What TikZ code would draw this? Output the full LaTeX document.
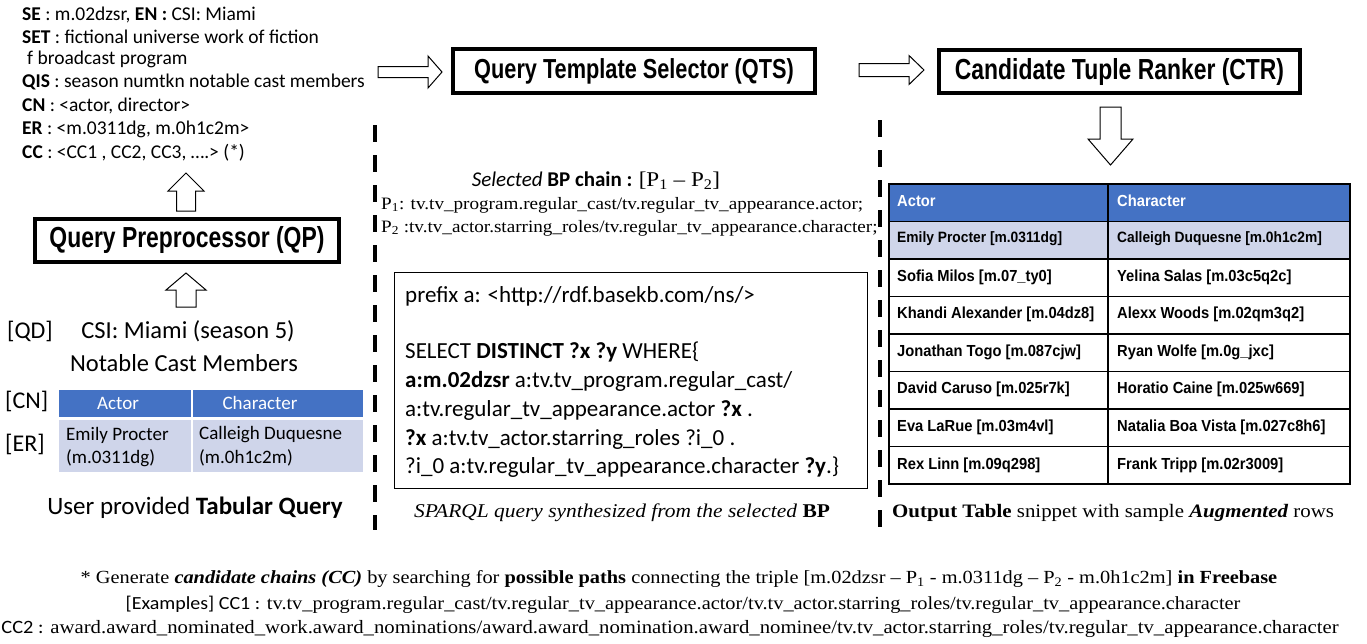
\documentclass[tikz,border=0pt]{standalone}
\usepackage{fontspec}
\setmainfont{Carlito}
\newfontfamily\arialn[FakeStretch=0.79]{Liberation Sans}
\newfontfamily\arialt[FakeStretch=0.92]{Liberation Sans}
\newfontfamily\tnr[FakeStretch=1.1]{Liberation Serif}
\newfontfamily\calw[FakeStretch=1.08]{Carlito}
\definecolor{hdrblue}{HTML}{4472C4}
\definecolor{rowlav}{HTML}{CFD5EA}
\begin{document}
\begin{tikzpicture}[x=1pt,y=-1pt,
  lbl/.style={inner sep=0, anchor=west, font=\fontsize{19.5}{22}\selectfont},
  procbox/.style={draw, line width=4pt, inner sep=0, font=\arialn\bfseries\fontsize{29}{32}\selectfont},
  blockarrow/.style={draw, line width=1pt, fill=white},
  dashline/.style={line width=4.5pt, dash pattern=on 17pt off 13pt},
  sq/.style={inner sep=0, anchor=west, font=\fontsize{23}{26}\selectfont},
  big/.style={inner sep=0, font=\fontsize{24.5}{28}\selectfont},
  tq/.style={inner sep=0, font=\fontsize{19}{22}\selectfont},
  tcell/.style={inner sep=0, anchor=west, font=\arialt\bfseries\fontsize{16}{19}\selectfont},
  tms/.style={inner sep=0, font=\tnr\fontsize{18.5}{21}\selectfont},
]
\useasboundingbox (0,0) rectangle (1367,643);

% top-left text block
\node[lbl] (se) at (22,15) {\textbf{SE} : m.02dzsr, \textbf{EN :} CSI: Miami};
\node[lbl] (set) at (22,37) {\textbf{SET} : fictional universe work of fiction};
\node[lbl] (set2) at (27,59) {f broadcast program};
\node[lbl] (qis) at (22,82) {\textbf{QIS} : season numtkn notable cast members};
\node[lbl] (cn) at (22,106) {\textbf{CN} : <actor, director>};
\node[lbl] (er) at (22,129) {\textbf{ER} : <m.0311dg, m.0h1c2m>};
\node[lbl] (cc) at (22,153) {\textbf{CC} : <CC1 , CC2, CC3, ….> (*)};

% process boxes
\node[procbox, minimum width=304pt, minimum height=43pt] (qp) at (187,240) {Query Preprocessor (QP)};
\node[procbox, minimum width=362pt, minimum height=44pt, font=\arialn\bfseries\fontsize{27.5}{31}\selectfont] (qts) at (634,71) {Query Template Selector (QTS)};
\node[procbox, minimum width=361pt, minimum height=43pt] (ctr) at (1119.5,71.5) {Candidate Tuple Ranker (CTR)};

% block arrows
\draw[blockarrow] (378,66.5) -- (428,66.5) -- (428,56) -- (442,72) -- (428,88) -- (428,77.5) -- (378,77.5) -- cycle;
\draw[blockarrow] (859,63.5) -- (909,63.5) -- (909,55.5) -- (924,70) -- (909,84.5) -- (909,76.5) -- (859,76.5) -- cycle;
\draw[blockarrow] (1100,107) -- (1100,139) -- (1088,139) -- (1110.5,165) -- (1133,139) -- (1121,139) -- (1121,107) -- cycle;
\draw[blockarrow] (176.5,211) -- (176.5,191) -- (168,191) -- (186,173) -- (204,191) -- (195.5,191) -- (195.5,211) -- cycle;
\draw[blockarrow] (176,307) -- (176,290) -- (166,290) -- (186,273) -- (206,290) -- (196,290) -- (196,307) -- cycle;

% dashed separators
\draw[dashline] (375,125) -- (375,530);
\draw[dashline] (880,120) -- (880,530);

% left: tabular query
\node[inner sep=0, anchor=west, font=\fontsize{24}{28}\selectfont] (qd) at (7,331) {[QD]};
\node[big] (title1) at (188,331) {CSI: Miami (season 5)};
\node[big] (title2) at (184,363) {Notable Cast Members};
\node[inner sep=0, anchor=west, font=\fontsize{24}{28}\selectfont] (cnl) at (5,401) {[CN]};
\node[inner sep=0, anchor=west, font=\fontsize{24}{28}\selectfont] (erl) at (5,444) {[ER]};
\fill[hdrblue] (59,390) rectangle (190.5,416.5);
\fill[hdrblue] (193,390) rectangle (363,416.5);
\fill[rowlav] (59,420) rectangle (190.5,472);
\fill[rowlav] (193,420) rectangle (363,472);
\node[tq, text=white] (ha) at (118,403) {Actor};
\node[tq, text=white] (hc) at (260,403) {Character};
\node[tq, anchor=west] (b1) at (66,435) {Emily Procter};
\node[tq, anchor=west] (b2) at (66,458) {(m.0311dg)};
\node[tq, anchor=west] (b3) at (199,435) {Calleigh Duquesne};
\node[tq, anchor=west] (b4) at (199,458) {(m.0h1c2m)};
\node[big, font=\fontsize{25}{28}\selectfont] (cap1) at (195,508) {User provided \textbf{Tabular Query}};

% middle: BP chain
\node[inner sep=0, font=\fontsize{21}{25}\selectfont] (bp) at (596,181) {\textit{Selected} \textbf{BP chain :} {\tnr [P\textsubscript{1} – P\textsubscript{2}]}};
\node[inner sep=0, anchor=west, font=\tnr\fontsize{17.4}{21}\selectfont] (p1) at (381,205) {P\textsubscript{1}: tv.tv\_program.regular\_cast/tv.regular\_tv\_appearance.actor;};
\node[inner sep=0, anchor=west, font=\tnr\fontsize{17.4}{21}\selectfont] (p2) at (381,228) {P\textsubscript{2} :tv.tv\_actor.starring\_roles/tv.regular\_tv\_appearance.character;};

% SPARQL box
\draw[line width=1pt] (394,272) rectangle (867,488);
\node[sq] (s1) at (405,296) {prefix a: <http://rdf.basekb.com/ns/>};
\node[sq] (s2) at (405,352) {SELECT \textbf{DISTINCT ?x ?y} WHERE\{};
\node[sq] (s3) at (405,381) {\textbf{a:m.02dzsr} a:tv.tv\_program.regular\_cast/};
\node[sq] (s4) at (405,410) {a:tv.regular\_tv\_appearance.actor \textbf{?x} .};
\node[sq] (s5) at (405,439) {\textbf{?x} a:tv.tv\_actor.starring\_roles ?i\_0 .};
\node[sq] (s6) at (405,467) {?i\_0 a:tv.regular\_tv\_appearance.character \textbf{?y}.\}};
\node[inner sep=0, font=\tnr\itshape\fontsize{19.5}{23}\selectfont] (cap2) at (622,513) {SPARQL query synthesized from the selected \textbf{\upshape BP}};

% output table
\fill[hdrblue] (889,184) rectangle (1350,221.5);
\fill[rowlav] (889,221.5) rectangle (1350,259);
\foreach \yy in {221.5,259,296.5,334,371.5,409,446.5} {
  \draw[line width=1.5pt] (889,\yy) -- (1350,\yy);
}
\draw[line width=1.5pt] (889,184) rectangle (1350,484);
\draw[line width=1.5pt] (1108,184) -- (1108,484);
\node[tcell, text=white] (oh1) at (897,201) {Actor};
\node[tcell, text=white] (oh2) at (1117,201) {Character};
\node[tcell, font=\arialt\bfseries\fontsize{15}{17}\selectfont] (r1a) at (897,239) {Emily Procter [m.0311dg]};
\node[tcell, font=\arialt\bfseries\fontsize{15}{17}\selectfont] (r1b) at (1117,239) {Calleigh Duquesne [m.0h1c2m]};
\node[tcell] (r2a) at (897,277) {Sofia Milos [m.07\_ty0]};
\node[tcell] (r2b) at (1117,277) {Yelina Salas [m.03c5q2c]};
\node[tcell] (r3a) at (897,314) {Khandi Alexander [m.04dz8]};
\node[tcell] (r3b) at (1117,314) {Alexx Woods [m.02qm3q2]};
\node[tcell] (r4a) at (897,352) {Jonathan Togo [m.087cjw]};
\node[tcell] (r4b) at (1117,352) {Ryan Wolfe [m.0g\_jxc]};
\node[tcell] (r5a) at (897,389) {David Caruso [m.025r7k]};
\node[tcell] (r5b) at (1117,389) {Horatio Caine [m.025w669]};
\node[tcell] (r6a) at (897,427) {Eva LaRue [m.03m4vl]};
\node[tcell] (r6b) at (1117,427) {Natalia Boa Vista [m.027c8h6]};
\node[tcell] (r7a) at (897,465) {Rex Linn [m.09q298]};
\node[tcell] (r7b) at (1117,465) {Frank Tripp [m.02r3009]};
\node[inner sep=0, anchor=west, font=\tnr\fontsize{19}{22}\selectfont] (cap3) at (892,513) {\textbf{Output Table} snippet with sample \textbf{\textit{Augmented}} rows};

% footnote lines
\node[tms] (f1) at (679,579) {* Generate \textbf{\textit{candidate chains (CC)}} by searching for \textbf{possible paths} connecting the triple [m.02dzsr – P\textsubscript{1} - m.0311dg – P\textsubscript{2} - m.0h1c2m] \textbf{in Freebase}};
\node[tms] (f2) at (683,605) {{\calw [Examples] CC1 :} tv.tv\_program.regular\_cast/tv.regular\_tv\_appearance.actor/tv.tv\_actor.starring\_roles/tv.regular\_tv\_appearance.character};
\node[tms, font=\tnr\fontsize{18.85}{21}\selectfont] (f3) at (670,629) {{\calw CC2 :} award.award\_nominated\_work.award\_nominations/award.award\_nomination.award\_nominee/tv.tv\_actor.starring\_roles/tv.regular\_tv\_appearance.character};
\end{tikzpicture}
\end{document}
